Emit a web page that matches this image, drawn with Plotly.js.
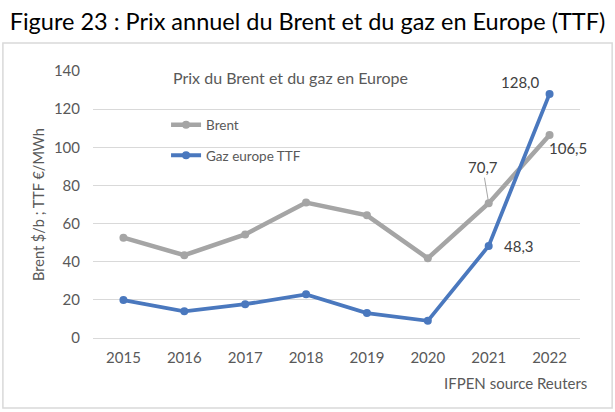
<!DOCTYPE html>
<html>
<head>
<meta charset="utf-8">
<script src="https://cdn.plot.ly/plotly-3.0.1.min.js"></script>
<style>
html,body{margin:0;padding:0;background:#fff;}
#chart{width:615px;height:412px;}
</style>
</head>
<body>
<div id="chart"></div>
<script>
var years = ["2015","2016","2017","2018","2019","2020","2021","2022"];
var brent = [52.6, 43.4, 54.3, 71.0, 64.3, 41.8, 70.7, 106.5];
var gaz = [19.9, 14.0, 17.7, 22.9, 13.1, 9.0, 48.3, 128.0];
var seriesNames = ["Brent", "Gaz europe TTF"];
var yTicks = [0, 20, 40, 60, 80, 100, 120, 140];

var FONT = "Lato, 'Open Sans', sans-serif";
var grey = "#595959";

var traces = [
  {x: years, y: brent, name: seriesNames[0], type: "scatter", mode: "lines+markers",
   line: {color: "#A5A5A5", width: 4.5}, marker: {color: "#A5A5A5", size: 8},
   legendgroup: "a"},
  {x: years, y: gaz, name: seriesNames[1], type: "scatter", mode: "lines+markers",
   line: {color: "#4A78BE", width: 3.8}, marker: {color: "#4A78BE", size: 8},
   legendgroup: "b"}
];

function fmt(v) { return v.toFixed(1).replace(".", ","); }
var lblFont = {family: FONT, size: 15, color: "#404040"};
var annotations = [
  {x: 7, y: gaz[7], xref: "x", yref: "y", text: fmt(gaz[7]),
   showarrow: false, xanchor: "right", yanchor: "middle", xshift: -8, yshift: 12, font: lblFont},
  {x: 7, y: brent[7], xref: "x", yref: "y", text: fmt(brent[7]),
   showarrow: false, xanchor: "left", yanchor: "middle", xshift: -3, yshift: -13, font: lblFont},
  {x: 6, y: brent[6], xref: "x", yref: "y", text: fmt(brent[6]),
   showarrow: true, arrowhead: 0, arrowwidth: 1, arrowcolor: "#A6A6A6", ax: -6, ay: -36,
   standoff: 3, font: lblFont},
  {x: 6, y: gaz[6], xref: "x", yref: "y", text: fmt(gaz[6]),
   showarrow: false, xanchor: "left", yanchor: "middle", xshift: 13, yshift: 0, font: lblFont},
  {x: 0.405, y: 0.977, xref: "paper", yref: "paper", text: "Prix du Brent et du gaz en Europe",
   showarrow: false, xanchor: "center", yanchor: "middle",
   font: {family: FONT, size: 16, color: grey}},
  {x: 1.0185, y: -0.168, xref: "paper", yref: "paper", text: "IFPEN source Reuters",
   showarrow: false, xanchor: "right", yanchor: "middle",
   font: {family: FONT, size: 15, color: grey}}
];

var layout = {
  width: 615, height: 412,
  margin: {l: 93, r: 35, t: 71, b: 74, pad: 0},
  paper_bgcolor: "#fff", plot_bgcolor: "#fff",
  title: {text: "Figure 23 : Prix annuel du Brent et du gaz en Europe (TTF)",
          x: 0.5, xanchor: "center", xref: "container", y: 1 - 22/412, yanchor: "middle", yref: "container",
          font: {family: FONT, size: 23.5, color: "#000"}},
  xaxis: {type: "category", range: [-0.5, 7.5], showgrid: false, zeroline: false, showline: false,
          ticks: "", tickfont: {family: FONT, size: 15, color: grey}, ticklabelstandoff: 9,
          fixedrange: true},
  yaxis: {range: [0, 140], tickvals: yTicks, ticktext: yTicks.map(String), showgrid: true,
          gridcolor: "#D9D9D9", gridwidth: 1, zeroline: true, zerolinecolor: "#D9D9D9", zerolinewidth: 1,
          showline: false, ticks: "", tickfont: {family: FONT, size: 15, color: grey},
          ticklabelstandoff: 12,
          title: {text: "Brent $/b ; TTF €/MWh", font: {family: FONT, size: 14.5, color: grey}, standoff: 5},
          fixedrange: true},
  showlegend: true,
  legend: {x: 0.15, y: 0.74, xanchor: "left", yanchor: "middle", traceorder: "grouped",
           tracegroupgap: 10, bgcolor: "rgba(0,0,0,0)", font: {family: FONT, size: 13.5, color: grey},
           itemwidth: 30},
  annotations: annotations,
  shapes: [
    {type: "rect", xref: "paper", yref: "paper", x0: -0.185, x1: 1.066, y0: -0.262, y1: 1.105,
     line: {color: "#D9D9D9", width: 1.5}, fillcolor: "rgba(0,0,0,0)", layer: "below"}
  ]
};

Plotly.newPlot("chart", traces, layout, {displayModeBar: false, staticPlot: true});
</script>
</body>
</html>
